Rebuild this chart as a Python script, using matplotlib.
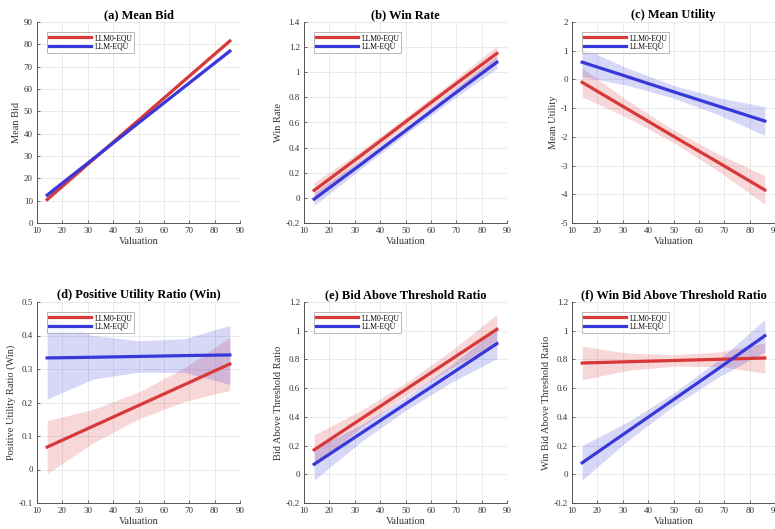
import numpy as np
import matplotlib.pyplot as plt
from matplotlib.ticker import FormatStrFormatter

# ------------------------------------------------------------
# Data (fitted lines and confidence bands at sampled valuations)
# ------------------------------------------------------------
valuation = [14, 32, 50, 68, 86]
labels = ["LLM0-EQU", "LLM-EQU"]

# (a) Mean Bid
bid_red = [10.5, 28.3, 46.0, 63.8, 81.5]
bid_red_hw = [0.8, 0.5, 0.4, 0.5, 0.8]
bid_blue = [12.5, 28.6, 44.8, 60.9, 77.0]
bid_blue_hw = [0.8, 0.5, 0.4, 0.5, 0.8]

# (b) Win Rate
win_red = [0.06, 0.33, 0.605, 0.88, 1.15]
win_red_hw = [0.06, 0.04, 0.035, 0.04, 0.06]
win_blue = [-0.01, 0.26, 0.535, 0.81, 1.08]
win_blue_hw = [0.05, 0.035, 0.03, 0.035, 0.05]

# (c) Mean Utility
util_red = [-0.1, -1.04, -1.98, -2.91, -3.85]
util_red_hw = [0.5, 0.3, 0.22, 0.3, 0.5]
util_blue = [0.6, 0.09, -0.43, -0.94, -1.45]
util_blue_hw = [0.5, 0.3, 0.22, 0.3, 0.5]

# (d) Positive Utility Ratio (Win)
pos_red = [0.067, 0.129, 0.191, 0.253, 0.315]
pos_red_hw = [0.079, 0.05, 0.04, 0.05, 0.079]
pos_blue = [0.333, 0.335, 0.3375, 0.34, 0.342]
pos_blue_hw = [0.123, 0.065, 0.047, 0.05, 0.088]

# (e) Bid Above Threshold Ratio
thr_red = [0.17, 0.38, 0.59, 0.80, 1.01]
thr_red_hw = [0.105, 0.06, 0.045, 0.06, 0.105]
thr_blue = [0.07, 0.28, 0.49, 0.70, 0.91]
thr_blue_hw = [0.11, 0.06, 0.045, 0.06, 0.105]

# (f) Win Bid Above Threshold Ratio
wthr_red = [0.775, 0.784, 0.7925, 0.801, 0.81]
wthr_red_hw = [0.117, 0.06, 0.04, 0.05, 0.105]
wthr_blue = [0.08, 0.30, 0.52, 0.74, 0.965]
wthr_blue_hw = [0.12, 0.065, 0.045, 0.06, 0.113]

panels = [
    ("(a) Mean Bid", "Mean Bid", (0, 90), 10, "%g",
     bid_red, bid_red_hw, bid_blue, bid_blue_hw),
    ("(b) Win Rate", "Win Rate", (-0.2, 1.4), 0.2, "%g",
     win_red, win_red_hw, win_blue, win_blue_hw),
    ("(c) Mean Utility", "Mean Utility", (-5, 2), 1, "%g",
     util_red, util_red_hw, util_blue, util_blue_hw),
    ("(d) Positive Utility Ratio (Win)", "Positive Utility Ratio (Win)", (-0.1, 0.5), 0.1, "%g",
     pos_red, pos_red_hw, pos_blue, pos_blue_hw),
    ("(e) Bid Above Threshold Ratio", "Bid Above Threshold Ratio", (-0.2, 1.2), 0.2, "%g",
     thr_red, thr_red_hw, thr_blue, thr_blue_hw),
    ("(f) Win Bid Above Threshold Ratio", "Win Bid Above Threshold Ratio", (-0.2, 1.2), 0.2, "%g",
     wthr_red, wthr_red_hw, wthr_blue, wthr_blue_hw),
]

# ------------------------------------------------------------
# Figure
# ------------------------------------------------------------
plt.rcParams["font.family"] = ["Liberation Serif", "DejaVu Serif"]

red = (0.85, 0.22, 0.22)
blue = (0.22, 0.22, 0.85)
text_col = "#333333"

W, H = 775, 529
fig = plt.figure(figsize=(W / 100, H / 100), dpi=100)

lefts = [37, 304, 572]
tops = [22, 302]
aw, ah = 203, 201

x = np.array(valuation)

for i, (title, ylab, ylim, ystep, fmt, r, rhw, b, bhw) in enumerate(panels):
    row, col = divmod(i, 3)
    left = lefts[col]
    top = tops[row]
    ax = fig.add_axes([left / W, 1 - (top + ah) / H, aw / W, ah / H])

    r = np.array(r); rhw = np.array(rhw)
    b = np.array(b); bhw = np.array(bhw)

    ax.fill_between(x, r - rhw, r + rhw, color=red, alpha=0.2, lw=0)
    ax.fill_between(x, b - bhw, b + bhw, color=blue, alpha=0.2, lw=0)
    ax.plot(x, r, color=red, lw=2.3, label=labels[0])
    ax.plot(x, b, color=blue, lw=2.3, label=labels[1])

    ax.set_xlim(10, 90)
    ax.set_ylim(*ylim)
    ax.set_xticks(np.arange(10, 91, 10))
    ax.set_yticks(np.arange(ylim[0], ylim[1] + ystep / 2, ystep))
    ax.yaxis.set_major_formatter(FormatStrFormatter(fmt))
    ax.grid(True, color="#e6e6e6", lw=0.6)
    ax.set_axisbelow(True)

    for s in ["top", "right"]:
        ax.spines[s].set_visible(False)
    for s in ["left", "bottom"]:
        ax.spines[s].set_color("#555555")
        ax.spines[s].set_linewidth(0.7)

    ax.tick_params(direction="in", length=2.5, width=0.6, colors="#555555",
                   labelsize=6.5, labelcolor=text_col, pad=3)

    ax.set_title(title, fontsize=9, fontweight="bold", pad=3)
    ax.set_xlabel("Valuation", fontsize=7.5, color=text_col, labelpad=1)
    ax.set_ylabel(ylab, fontsize=7.5, color=text_col, labelpad=2)

    leg = ax.legend(loc="upper left", fontsize=5.5, handlelength=5.5,
                    frameon=True, fancybox=False, borderpad=0.3,
                    labelspacing=0.1, handletextpad=0.4,
                    bbox_to_anchor=(0.03, 0.97))
    leg.get_frame().set_edgecolor("#999999")
    leg.get_frame().set_linewidth(0.6)

fig.savefig("out.png", dpi=100)
